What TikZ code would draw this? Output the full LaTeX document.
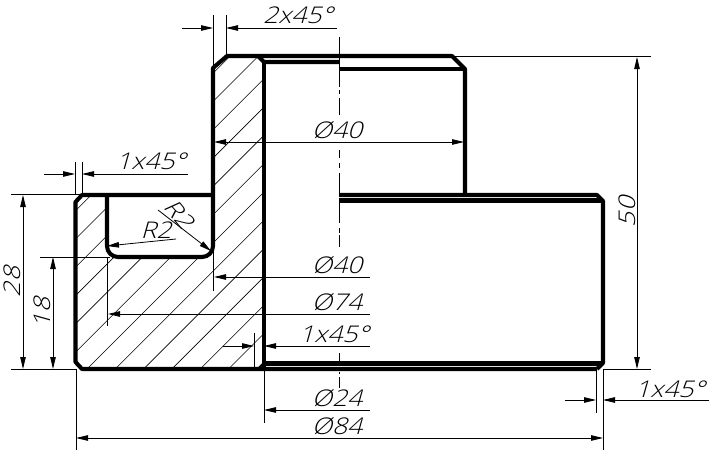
\documentclass[tikz,border=0pt]{standalone}
\usepackage{fontspec}
\newfontfamily\cadfont[FakeSlant=0.28,FakeStretch=1.15]{Open Sans Light}
\usetikzlibrary{arrows.meta}
\tikzset{
  outline/.style={line width=4.1pt,line join=round},
  thinline/.style={line width=0.8pt},
  hatchline/.style={line width=0.6pt},
  dimline/.style={thinline,-{Stealth[inset=0pt,length=12pt,width=5.5pt]}},
  dimboth/.style={thinline,{Stealth[inset=0pt,length=12pt,width=5.5pt]}-{Stealth[inset=0pt,length=12pt,width=5.5pt]}},
  dimtext/.style={inner sep=0pt,font=\cadfont\fontsize{23}{23}\selectfont},
}
\begin{document}
\begin{tikzpicture}[x=1pt,y=-1pt]
  \useasboundingbox (0,0) rectangle (713,471);
  % hatching
  \begin{scope}
    \clip (75.5,202)--(82,195)--(107,195)--(107,246) arc(180:90:11)--(202,257) arc(90:0:11)
      --(213,69)--(227,56)--(258,56)--(264,62)--(264,362)--(258,369)--(82,369)--(75.5,362)--cycle;
    \foreach \k in {-7,...,7}
      \draw[hatchline] ({456+28.3*\k-369},369)--++(320,-320);
  \end{scope}
  % centre line
  \draw[thinline] (339,37)--(339,87) (339,90)--(339,94) (339,98)--(339,115);
  \draw[thinline] (339,150)--(339,158) (339,163)--(339,168) (339,173)--(339,195);
  \draw[thinline] (339,203)--(339,223) (339,228)--(339,233) (339,235)--(339,247);
  \draw[thinline] (339,353)--(339,361) (339,372)--(339,374) (339,377)--(339,388);
  % part outline
  \draw[outline] (213,195)--(82,195)--(75.5,202)--(75.5,362)--(82,369)--(597,369);
  \draw[outline] (107,195)--(107,246) arc(180:90:11)--(202,257) arc(90:0:11)--(213,68)--(227,56)--(452,56)--(465,69)--(465,195);
  \draw[outline] (264,62)--(264,369);
  \draw[outline] (258,56)--(264,62)--(339,62);
  \draw[outline] (339,69)--(465,69);
  \draw[outline] (339,195)--(597,195)--(603,201)--(603,363)--(597,369);
  \draw[outline] (339,200.5)--(603,200.5);
  \draw[outline] (264,363.5)--(603,363.5);
  \draw[outline,line width=2pt] (258,369)--(264,363);
  % extension lines
  \draw[thinline] (213,15)--(213,66) (226,15)--(226,55);
  \draw[thinline] (452,56)--(651,56) (603,369)--(651,369);
  \draw[thinline] (75,162)--(75,195) (82,162)--(82,195);
  \draw[thinline] (11,194)--(80,194) (11,369)--(76,369) (40,257)--(110,257);
  \draw[thinline] (107,257)--(107,326) (213,246)--(213,291);
  \draw[thinline] (254,333)--(254,368) (264,369)--(264,423);
  \draw[thinline] (76,369)--(76,450) (603,369)--(603,450) (596,369)--(596,413);
  % dimensions
  \draw[dimline] (182,28)--(213,28);
  \draw[dimline] (337,28)--(226,28);
  \node[dimtext] (chamfertop) at (298,15) {2x45°};
  \draw[dimboth] (214,142)--(464,142);
  \node[dimtext] (diaupper) at (337,130) {Ø40};
  \draw[dimline] (44,174)--(75,174);
  \draw[dimline] (188,174)--(82,174);
  \node[dimtext] (chamferleft) at (151,161) {1x45°};
  \draw[dimboth] (23,195)--(23,369);
  \node[dimtext,rotate=90] (heightouter) at (12,282) {28};
  \draw[dimboth] (53,257)--(53,369);
  \node[dimtext,rotate=90] (heightinner) at (42,313) {18};
  \draw[dimboth] (637,57)--(637,369);
  \node[dimtext,rotate=90] (heighttotal) at (627,212) {50};
  \draw[dimline] (176,239)--(107,246);
  \node[dimtext] (radiusleft) at (156,230) {R2};
  \draw[dimline] (158,210)--(211,251);
  \node[dimtext,rotate=-50] (radiusright) at (179,214) {R2};
  \draw[dimline] (370,277)--(214,277);
  \node[dimtext] (dialower) at (337,265) {Ø40};
  \draw[dimline] (370,314)--(108,314);
  \node[dimtext] (diaseven) at (337,302) {Ø74};
  \draw[dimline] (223,346)--(254,346);
  \draw[dimline] (370,346)--(264,346);
  \node[dimtext] (chamferbore) at (334,334) {1x45°};
  \draw[dimline] (370,410)--(264,410);
  \node[dimtext] (diabore) at (337,398) {Ø24};
  \draw[dimboth] (76,438)--(603,438);
  \node[dimtext] (diaouter) at (337,426) {Ø84};
  \draw[dimline] (565,400)--(596,400);
  \draw[dimline] (709,400)--(603,400);
  \node[dimtext] (chamferright) at (670,389) {1x45°};
\end{tikzpicture}
\end{document}
